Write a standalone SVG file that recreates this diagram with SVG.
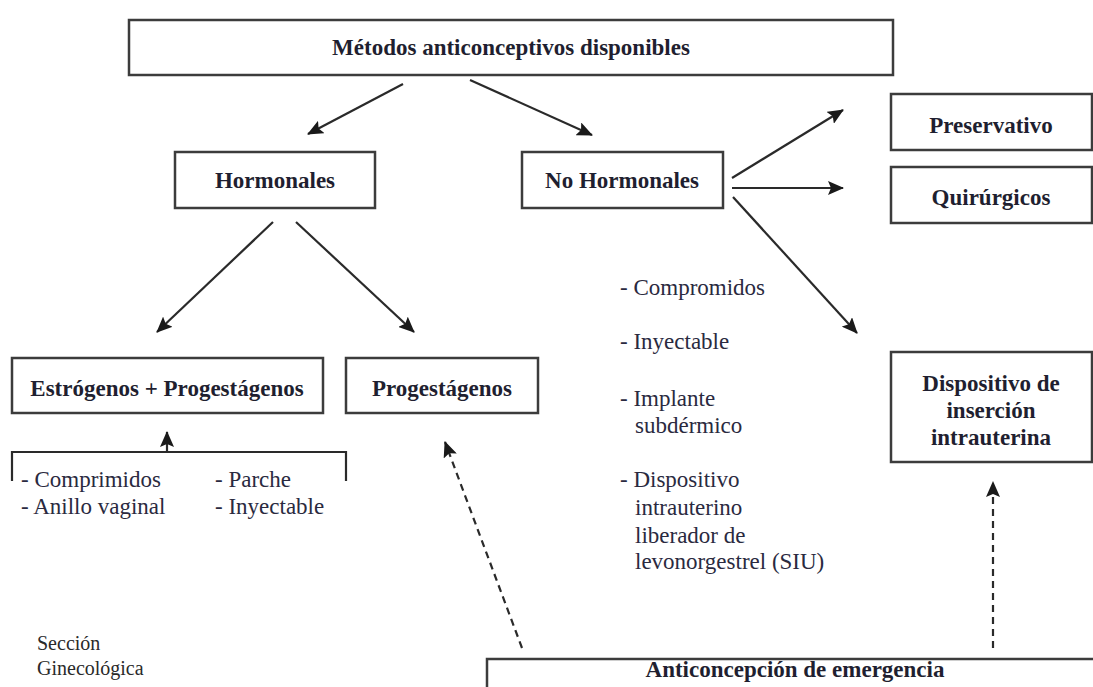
<svg xmlns="http://www.w3.org/2000/svg" width="1093" height="687" viewBox="0 0 1093 687">
<style>
  .box { fill: #ffffff; stroke: #3c3c3c; stroke-width: 2.5; }
  .lbl { font-family: "Liberation Serif", "Times New Roman", serif; font-weight: bold; font-size: 23px; fill: #1f1f30; text-anchor: middle; }
  .txt { font-family: "Liberation Serif", "Times New Roman", serif; font-size: 23px; fill: #2a2a40; }
  .small { font-family: "Liberation Serif", "Times New Roman", serif; font-size: 20px; fill: #2a2a2a; }
  .conn { stroke: #2a2a2a; stroke-width: 2.2; fill: none; }
  .dash { stroke: #2a2a2a; stroke-width: 2.2; fill: none; stroke-dasharray: 7 5; }
</style>
<defs>
  <marker id="arr" viewBox="0 0 16 14" refX="15" refY="7" markerWidth="16" markerHeight="14" markerUnits="userSpaceOnUse" orient="auto">
    <path d="M0,0 L16,7 L0,14 L3,7 Z" fill="#1a1a1a"/>
  </marker>
</defs>
<rect width="1093" height="687" fill="#ffffff"/>

<g id="connectors">
  <line class="conn" x1="403" y1="84" x2="308" y2="134" marker-end="url(#arr)"/>
  <line class="conn" x1="470" y1="80" x2="592" y2="135" marker-end="url(#arr)"/>
  <line class="conn" x1="273" y1="222" x2="157" y2="332" marker-end="url(#arr)"/>
  <line class="conn" x1="296" y1="222" x2="414" y2="332" marker-end="url(#arr)"/>
  <line class="conn" x1="732" y1="178" x2="843" y2="110" marker-end="url(#arr)"/>
  <line class="conn" x1="732" y1="188" x2="843" y2="188" marker-end="url(#arr)"/>
  <line class="conn" x1="733" y1="197" x2="857" y2="333" marker-end="url(#arr)"/>
  <path class="conn" d="M12,481 V452 H346 V481"/>
  <line class="conn" x1="167" y1="452" x2="167" y2="432" marker-end="url(#arr)"/>
  <line class="dash" x1="522" y1="648" x2="445" y2="442" marker-end="url(#arr)"/>
  <line class="dash" x1="993" y1="648" x2="993" y2="482" marker-end="url(#arr)"/>
</g>

<g id="node-metodos">
  <rect class="box" x="129" y="20" width="764" height="55"/>
  <text class="lbl" x="511" y="55">Métodos anticonceptivos disponibles</text>
</g>
<g id="node-hormonales">
  <rect class="box" x="175" y="152" width="200" height="56"/>
  <text class="lbl" x="275" y="188">Hormonales</text>
</g>
<g id="node-no-hormonales">
  <rect class="box" x="522" y="152" width="201" height="56"/>
  <text class="lbl" x="622" y="188">No Hormonales</text>
</g>
<g id="node-preservativo">
  <rect class="box" x="891" y="94" width="201" height="56"/>
  <text class="lbl" x="991" y="133">Preservativo</text>
</g>
<g id="node-quirurgicos">
  <rect class="box" x="891" y="167" width="201" height="56"/>
  <text class="lbl" x="991" y="205">Quirúrgicos</text>
</g>
<g id="node-estrogenos">
  <rect class="box" x="12" y="358" width="311" height="55"/>
  <text class="lbl" x="167" y="396">Estrógenos + Progestágenos</text>
</g>
<g id="node-progestagenos">
  <rect class="box" x="346" y="358" width="192" height="55"/>
  <text class="lbl" x="442" y="396">Progestágenos</text>
</g>
<g id="node-diu">
  <rect class="box" x="891" y="352" width="201" height="110"/>
  <text class="lbl" x="991" y="391">Dispositivo de</text>
  <text class="lbl" x="991" y="418">inserción</text>
  <text class="lbl" x="991" y="445">intrauterina</text>
</g>
<g id="node-emergencia">
  <rect class="box" x="487" y="659" width="620" height="60"/>
  <text class="lbl" x="795" y="677">Anticoncepción de emergencia</text>
</g>

<g id="list-combinados">
  <text class="txt" x="21" y="487">- Comprimidos</text>
  <text class="txt" x="21" y="514">- Anillo vaginal</text>
  <text class="txt" x="215" y="487">- Parche</text>
  <text class="txt" x="215" y="514">- Inyectable</text>
</g>
<g id="list-progestagenos">
  <text class="txt" x="620" y="295">- Compromidos</text>
  <text class="txt" x="620" y="349">- Inyectable</text>
  <text class="txt" x="620" y="406">- Implante</text>
  <text class="txt" x="635" y="433">subdérmico</text>
  <text class="txt" x="620" y="487">- Dispositivo</text>
  <text class="txt" x="635" y="515">intrauterino</text>
  <text class="txt" x="635" y="543">liberador de</text>
  <text class="txt" x="635" y="569">levonorgestrel (SIU)</text>
</g>
<g id="caption">
  <text class="small" x="37" y="650">Sección</text>
  <text class="small" x="37" y="675">Ginecológica</text>
</g>
</svg>
